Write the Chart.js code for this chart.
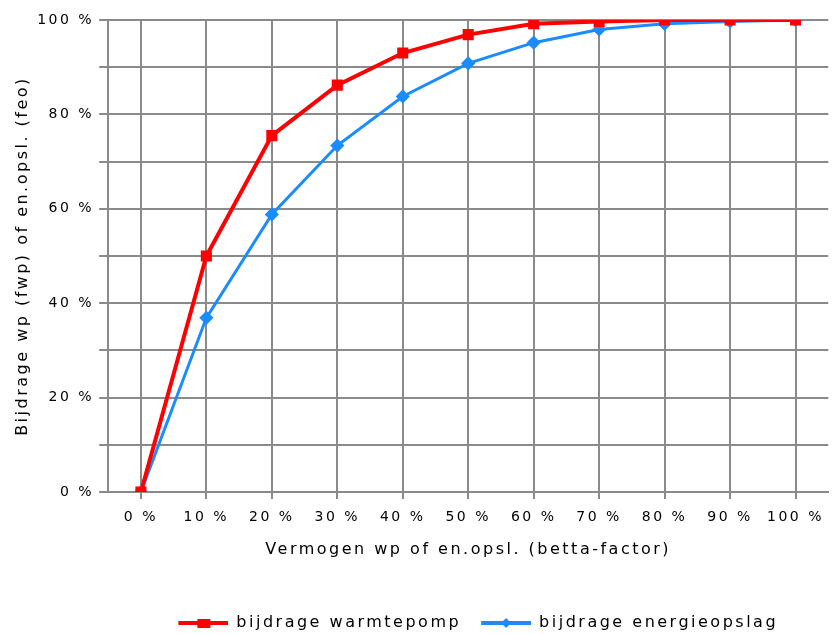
<!DOCTYPE html>
<html>
<head>
<meta charset="utf-8">
<script src="https://cdn.jsdelivr.net/npm/chart.js@4.4.1/dist/chart.umd.min.js"></script>
<style>
  html, body { margin: 0; padding: 0; background: #fff; overflow: hidden; }
  #wrap { width: 834px; height: 634px; overflow: hidden; }
</style>
</head>
<body>
<div id="wrap"><canvas id="chart" width="834" height="641"></canvas></div>
<script>
const categories = ["0 %", "10 %", "20 %", "30 %", "40 %", "50 %", "60 %", "70 %", "80 %", "90 %", "100 %"];
const warmtepomp = [0, 50, 75.5, 86.2, 93, 96.9, 99.2, 99.7, 100, 100, 100];
const energieopslag = [0, 36.9, 58.8, 73.4, 83.8, 90.8, 95.2, 98, 99.2, 99.7, 100];

const RED = "#ff0000";
const BLUE = "#1a8cff";
const GRID = "#8a8a8a";

// legend swatch: short line with the marker in the middle (left margin = gap between items)
function swatch(color, style) {
  const c = document.createElement("canvas");
  c.width = 70; c.height = 12;
  const g = c.getContext("2d");
  g.strokeStyle = color;
  g.lineWidth = 4;
  g.beginPath(); g.moveTo(20, 6); g.lineTo(70, 6); g.stroke();
  g.fillStyle = color;
  if (style === "rect") {
    g.fillRect(39, 2, 13, 9);
  } else {
    g.beginPath(); g.moveTo(45, 1); g.lineTo(50, 6); g.lineTo(45, 11); g.lineTo(40, 6); g.closePath(); g.fill();
  }
  return c;
}

// the original uses a wide bitmap font; imitate with letter spacing
const spacing = {
  id: "spacing",
  beforeUpdate(chart) { chart.ctx.letterSpacing = "2.5px"; },
  beforeDraw(chart) { chart.ctx.letterSpacing = "2.5px"; },
};

Chart.defaults.font.family = "'DejaVu Sans', sans-serif";
Chart.defaults.font.size = 16;
Chart.defaults.color = "#000";

new Chart(document.getElementById("chart"), {
  type: "line",
  plugins: [spacing],
  data: {
    labels: categories,
    datasets: [
      {
        label: "bijdrage warmtepomp",
        data: warmtepomp,
        borderColor: RED,
        backgroundColor: RED,
        borderWidth: 4,
        pointStyle: "rect",
        pointRadius: 5,
        tension: 0,
        legendSwatch: swatch(RED, "rect"),
      },
      {
        label: "bijdrage energieopslag",
        data: energieopslag,
        borderColor: BLUE,
        backgroundColor: BLUE,
        borderWidth: 3,
        pointStyle: "rectRot",
        pointRadius: 5,
        tension: 0,
        legendSwatch: swatch(BLUE, "rectRot"),
      },
    ],
  },
  options: {
    responsive: false,
    animation: false,
    layout: { autoPadding: false, padding: { top: 20, right: 0, left: 13, bottom: 0 } },
    scales: {
      x: {
        offset: true,
        grid: { color: GRID, lineWidth: 2, offset: false, tickLength: 7 },
        border: { color: GRID, width: 2 },
        ticks: { maxRotation: 0, autoSkip: false, padding: 10, font: { size: 14 } },
        title: {
          display: true,
          text: "Vermogen wp of en.opsl. (betta-factor)",
          padding: { top: 4, bottom: 56 },
        },
      },
      y: {
        min: 0,
        max: 100,
        grid: { color: GRID, lineWidth: 2, tickLength: 9 },
        border: { color: GRID, width: 2 },
        ticks: {
          stepSize: 10,
          padding: 5,
          font: { size: 14 },
          callback: (v) => (v % 20 === 0 ? v + " %" : ""),
        },
        title: {
          display: true,
          text: "Bijdrage wp (fwp) of en.opsl. (feo)",
          padding: { top: 0, bottom: 0 },
        },
      },
    },
    plugins: {
      tooltip: { enabled: false },
      legend: {
        position: "bottom",
        fullSize: false,
        labels: {
          usePointStyle: true,
          pointStyleWidth: 70,
          padding: 0,
          generateLabels(chart) {
            return chart.data.datasets.map((ds, i) => ({
              text: ds.label,
              pointStyle: ds.legendSwatch,
              fillStyle: ds.borderColor,
              strokeStyle: ds.borderColor,
              lineWidth: 0,
              datasetIndex: i,
              hidden: false,
            }));
          },
        },
      },
    },
  },
});
</script>
</body>
</html>
